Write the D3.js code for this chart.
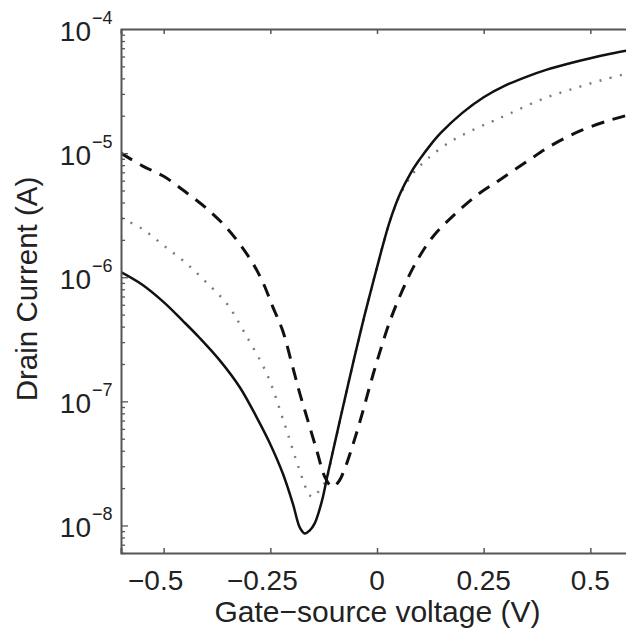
<!DOCTYPE html>
<html>
<head>
<meta charset="utf-8">
<script src="https://cdn.jsdelivr.net/npm/d3@7"></script>
<style>
  body { margin: 0; background: #fff; }
  text { font-family: "Liberation Sans", Arial, sans-serif; fill: #222; }
</style>
</head>
<body>
<div id="chart"></div>
<script>
// gate-source voltage (V) and drain current (A) per curve
const solidVgs = [-0.60, -0.55, -0.50, -0.455, -0.4155, -0.3685, -0.3216, -0.2817, -0.2512, -0.2207, -0.1972, -0.1808, -0.169, -0.158, -0.146, -0.129, -0.117, -0.103, -0.087, -0.070, -0.056, -0.047, -0.03, -0.016, 0.00, 0.014, 0.03, 0.054, 0.08, 0.10, 0.125, 0.15, 0.20, 0.25, 0.30, 0.35, 0.40, 0.45, 0.50, 0.55, 0.60];
const solidId  = [1.1e-6, 8.7e-7, 6.3e-7, 4.45e-7, 3.24e-7, 2.14e-7, 1.3e-7, 7.4e-8, 4.6e-8, 2.62e-8, 1.5e-8, 9.6e-9, 8.6e-9, 9.1e-9, 1.04e-8, 1.58e-8, 2.45e-8, 4.0e-8, 7.0e-8, 1.26e-7, 2.04e-7, 2.75e-7, 4.8e-7, 7.4e-7, 1.2e-6, 1.82e-6, 2.82e-6, 4.7e-6, 7.0e-6, 8.9e-6, 1.16e-5, 1.46e-5, 2.11e-5, 2.82e-5, 3.5e-5, 4.12e-5, 4.73e-5, 5.28e-5, 5.82e-5, 6.34e-5, 6.84e-5];

const dottedVgs = [-0.60, -0.55, -0.50, -0.45, -0.40, -0.35, -0.31, -0.258, -0.221, -0.188, -0.171, -0.16, -0.148, -0.138, -0.12, -0.103, -0.087, -0.070, -0.056, -0.047, -0.03, -0.016, 0.00, 0.014, 0.03, 0.054, 0.085, 0.12, 0.171, 0.22, 0.27, 0.312, 0.39, 0.46, 0.53, 0.60];
const dottedId  = [3.0e-6, 2.45e-6, 1.8e-6, 1.32e-6, 9.1e-7, 6.0e-7, 3.55e-7, 1.66e-7, 7.3e-8, 3.24e-8, 2.2e-8, 1.78e-8, 1.7e-8, 1.86e-8, 2.3e-8, 4.0e-8, 7.0e-8, 1.26e-7, 2.04e-7, 2.75e-7, 4.8e-7, 7.4e-7, 1.2e-6, 1.82e-6, 2.82e-6, 4.6e-6, 6.9e-6, 9.1e-6, 1.23e-5, 1.51e-5, 1.8e-5, 2.09e-5, 2.75e-5, 3.3e-5, 3.9e-5, 4.5e-5];

const dashedVgs = [-0.60, -0.55, -0.50, -0.45, -0.40, -0.35, -0.30, -0.27, -0.244, -0.221, -0.197, -0.181, -0.162, -0.141, -0.122, -0.105, -0.09, -0.075, -0.06, -0.045, -0.03, -0.015, 0.00, 0.03, 0.06, 0.09, 0.13, 0.18, 0.235, 0.285, 0.35, 0.41, 0.48, 0.55, 0.60];
const dashedId  = [1.0e-5, 7.9e-6, 6.5e-6, 4.9e-6, 3.6e-6, 2.45e-6, 1.45e-6, 9.5e-7, 5.75e-7, 3.7e-7, 1.86e-7, 1.16e-7, 7.0e-8, 4.0e-8, 2.45e-8, 2.05e-8, 2.25e-8, 2.9e-8, 4.1e-8, 6.0e-8, 9.1e-8, 1.4e-7, 2.1e-7, 4.4e-7, 7.9e-7, 1.29e-6, 2.1e-6, 3.16e-6, 4.6e-6, 6.0e-6, 8.5e-6, 1.16e-5, 1.53e-5, 1.86e-5, 2.07e-5];

const xTicks = [-0.5, -0.25, 0, 0.25, 0.5];
const xTickLabels = ["\u22120.5", "\u22120.25", "0", "0.25", "0.5"];
const yExponents = [-4, -5, -6, -7, -8];

const width = 626, height = 632;
const margin = {top: 29, right: -7, bottom: 79, left: 121};

const svg = d3.select("#chart").append("svg")
    .attr("width", width)
    .attr("height", height);

const x = d3.scaleLinear()
    .domain([-0.6, 0.6])
    .range([margin.left, width - margin.right]);

const y = d3.scaleLog()
    .domain([6e-9, 1e-4])
    .range([height - margin.bottom, margin.top]);

svg.append("clipPath").attr("id", "plot-clip")
  .append("rect")
    .attr("x", x(-0.6)).attr("y", y(1e-4))
    .attr("width", x(0.6) - x(-0.6))
    .attr("height", y(6e-9) - y(1e-4));

const line = d3.line()
    .x(d => x(d[0]))
    .y(d => y(d[1]))
    .curve(d3.curveCatmullRom.alpha(0.5));

const curves = [
  {vgs: dottedVgs, id: dottedId, stroke: "#7a7a7a", w: 2.4, dash: "2,8.5", cap: "butt"},
  {vgs: dashedVgs, id: dashedId, stroke: "#111", w: 3, dash: "13,9", cap: "butt"},
  {vgs: solidVgs, id: solidId, stroke: "#111", w: 2.5, dash: null, cap: "round"}
];

const plot = svg.append("g").attr("clip-path", "url(#plot-clip)");
curves.forEach(c => {
  plot.append("path")
      .datum(d3.zip(c.vgs, c.id))
      .attr("fill", "none")
      .attr("stroke", c.stroke)
      .attr("stroke-width", c.w)
      .attr("stroke-linecap", c.cap)
      .attr("stroke-dasharray", c.dash)
      .attr("d", line);
});

// axes box (inward ticks, matlab style)
const axisColor = "#555";
const bottomAxis = d3.axisBottom(x).tickValues(xTicks).tickSize(-5).tickFormat("");
const topAxis = d3.axisTop(x).tickValues(xTicks).tickSize(-5).tickFormat("");

const minorTicks = [];
for (let e = -9; e < -4; e++) {
  for (let m = 1; m < 10; m++) {
    let v = m * Math.pow(10, e);
    if (v >= 6e-9 && v <= 1e-4) minorTicks.push(v);
  }
}

[svg.append("g").attr("transform", `translate(0,${y(6e-9)})`).call(bottomAxis),
 svg.append("g").attr("transform", `translate(0,${y(1e-4)})`).call(topAxis)]
  .forEach(g => {
    g.select(".domain").attr("stroke", axisColor).attr("stroke-width", 2);
    g.selectAll(".tick line").attr("stroke", axisColor).attr("stroke-width", 1.5);
  });

const leftAxis = svg.append("g").attr("transform", `translate(${x(-0.6)},0)`)
    .call(d3.axisLeft(y).tickValues(minorTicks).tickSize(0).tickFormat(""));
leftAxis.select(".domain").attr("stroke", axisColor).attr("stroke-width", 2);
leftAxis.selectAll(".tick line")
    .attr("x2", d => Math.abs(Math.log10(d) - Math.round(Math.log10(d))) < 1e-6 ? 7 : 4)
    .attr("stroke", axisColor).attr("stroke-width", 1.3);

// x tick labels
svg.append("g").selectAll("text")
  .data(xTicks)
  .join("text")
    .attr("x", (d, i) => x(d) + (d < 0 ? -8 : 0))
    .attr("y", y(6e-9) + 37)
    .attr("text-anchor", "middle")
    .style("font-size", "28px")
    .text((d, i) => xTickLabels[i]);

// y tick labels 10^n
const yl = svg.append("g").selectAll("g")
  .data(yExponents)
  .join("g")
    .attr("transform", d => `translate(0,${y(Math.pow(10, d))})`);
yl.append("text")
    .attr("x", 91).attr("y", 12)
    .attr("text-anchor", "end")
    .style("font-size", "28px")
    .text("10");
yl.append("text")
    .attr("x", 92).attr("y", -5)
    .style("font-size", "18px")
    .text(d => "\u2212" + Math.abs(d));

// axis titles
svg.append("text")
    .attr("x", 377.5)
    .attr("y", 622)
    .attr("text-anchor", "middle")
    .style("font-size", "30px")
    .text("Gate\u2212source voltage (V)");

svg.append("text")
    .attr("transform", "translate(37,289) rotate(-90)")
    .attr("text-anchor", "middle")
    .style("font-size", "29.5px")
    .text("Drain Current (A)");
</script>
</body>
</html>
